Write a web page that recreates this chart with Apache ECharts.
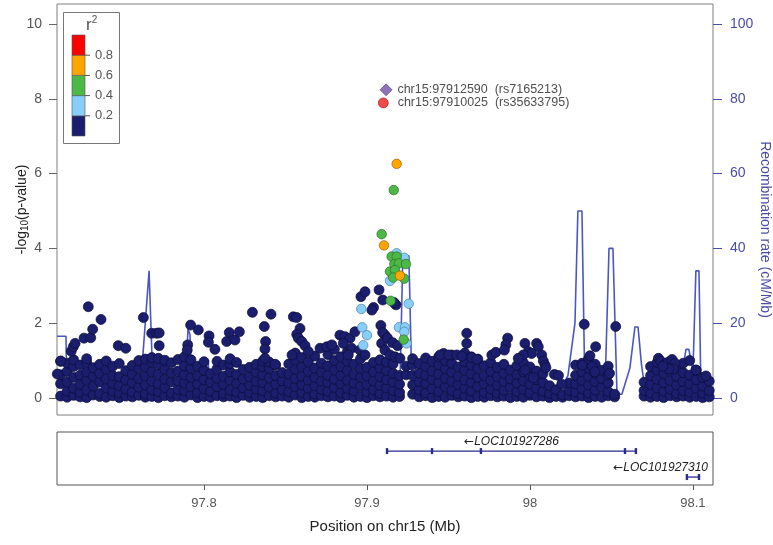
<!DOCTYPE html>
<html><head><meta charset="utf-8">
<script src="https://cdn.jsdelivr.net/npm/echarts@6/dist/echarts.min.js"></script>
<style>html,body{margin:0;padding:0;background:#fff}#c{width:773px;height:545px}</style>
</head><body><div id="c"></div>
<script>
// ---------- data ----------
const xTicks = [97.8, 97.9, 98, 98.1];
const pTicks = [0, 2, 4, 6, 8, 10];
const recTicks = [0, 20, 40, 60, 80, 100];
const r2Labels = ['0.2', '0.4', '0.6', '0.8'];
const r2Colors = ['#1b1d6d', '#87cefa', '#4cb848', '#ffa500', '#ff0000'];

// recombination rate (cM/Mb)
const recPos  = [97.7098,97.7153,97.7159,97.7362,97.7607,97.7626,97.7663,97.7687,97.7730,97.7883,97.7902,97.7914,97.7926,97.7994,97.8012,97.8025,97.8037,97.8282,97.8589,97.8773,97.8930,97.8945,97.8960,97.9202,97.9220,97.9257,97.9276,97.9325,97.9816,98.0184,98.0233,98.0276,98.0294,98.0319,98.0337,98.0460,98.0485,98.0509,98.0534,98.0564,98.0613,98.0644,98.0663,98.0684,98.0712,98.0920,98.0957,98.0975,98.1000,98.1018,98.1037,98.1049,98.1123];
const recRate = [16.5,16.5,2,3,5,12,34,3,3,2,18.5,17,2,3,10.5,10,2,3,2,3,3,9,3,3,38,38,2,1.5,2,2,6,20,50,50,2,2,40,40,1,1,8,19,19,9,0.5,2,13,13,7,34,34,2,1];

// -log10(p) for r2 < 0.2, grouped by position column
const navyCols = [
 [97.712,[0.05,0.38,0.62,0.98]],[97.716,[0.02,0.18,0.42,0.71,0.93]],[97.720,[0.07,0.26,0.55,0.84,1.02]],
 [97.724,[0.03,0.15,0.36,0.61,0.88]],[97.728,[0.01,0.21,0.47,0.69,0.95,1.05]],[97.732,[0.08,0.32,0.58,0.81]],
 [97.736,[0.04,0.12,0.44,0.66,0.9]],[97.740,[0.02,0.27,0.51,0.77,0.99]],[97.744,[0.06,0.19,0.39,0.6,0.85]],
 [97.748,[0.01,0.14,0.33,0.57,0.92]],[97.752,[0.05,0.24,0.48,0.73]],[97.756,[0.03,0.16,0.41,0.63,0.87]],
 [97.760,[0.07,0.29,0.52,0.79,1.0]],[97.764,[0.02,0.11,0.35,0.59,0.83,1.04]],[97.768,[0.04,0.22,0.45,0.7,0.96,1.08]],
 [97.772,[0.01,0.17,0.38,0.64,0.9,1.06]],[97.776,[0.06,0.28,0.5,0.76,1.01]],[97.780,[0.03,0.13,0.43,0.67,0.94]],
 [97.784,[0.05,0.23,0.46,0.72,1.03]],[97.788,[0.02,0.2,0.4,0.62,0.86,1.1]],[97.792,[0.08,0.31,0.55,0.8,1.02]],
 [97.796,[0.01,0.15,0.37,0.6,0.85]],[97.800,[0.04,0.25,0.49,0.74,0.97]],[97.804,[0.02,0.18,0.42,0.65]],
 [97.808,[0.06,0.3,0.53,0.78,0.98]],[97.812,[0.03,0.12,0.36,0.58,0.88]],[97.816,[0.05,0.21,0.47,0.7,0.92,1.05]],
 [97.820,[0.01,0.16,0.39,0.63,0.95]],[97.824,[0.07,0.27,0.51,0.76]],[97.828,[0.02,0.14,0.34,0.57,0.82]],
 [97.832,[0.04,0.24,0.44,0.69,0.9]],[97.836,[0.01,0.19,0.41,0.62,0.84,0.99]],[97.840,[0.06,0.29,0.54,0.79,0.96]],
 [97.844,[0.03,0.13,0.37,0.6,0.88]],[97.848,[0.05,0.22,0.46,0.68]],[97.852,[0.02,0.17,0.4,0.64,0.91]],
 [97.856,[0.08,0.3,0.52,0.77,1.02,1.2]],[97.860,[0.01,0.15,0.35,0.58,0.83,1.08]],[97.864,[0.04,0.26,0.48,0.71,0.97]],
 [97.868,[0.02,0.11,0.33,0.55,0.8,1.12]],[97.872,[0.06,0.23,0.45,0.69,0.93]],[97.876,[0.03,0.18,0.42,0.61,0.86,1.16]],
 [97.880,[0.05,0.28,0.5,0.75,1.0,1.3]],[97.884,[0.01,0.14,0.38,0.6,0.84,1.1]],[97.888,[0.07,0.25,0.47,0.73,0.98,1.24]],
 [97.892,[0.02,0.19,0.4,0.63,0.9]],[97.896,[0.04,0.31,0.56,0.79,1.05]],[97.900,[0.01,0.16,0.36,0.59,0.82]],
 [97.904,[0.06,0.22,0.46,0.7,0.95]],[97.908,[0.03,0.12,0.34,0.57,0.8,1.02]],[97.912,[0.05,0.27,0.49,0.74,0.96]],
 [97.916,[0.02,0.2,0.43,0.66,0.91]],[97.920,[0.04,0.15,0.37,0.6]],[97.924,[0.62,0.85]],
 [97.928,[0.1,0.35,0.6,0.88,1.05]],[97.932,[0.03,0.22,0.44,0.67,0.92]],[97.936,[0.06,0.14,0.39,0.61,0.85,1.07]],
 [97.940,[0.01,0.25,0.5,0.72,0.98]],[97.944,[0.04,0.17,0.41,0.64,0.89,1.1]],[97.948,[0.02,0.3,0.53,0.78,1.0]],
 [97.952,[0.07,0.2,0.45,0.69,0.93,1.15]],[97.956,[0.03,0.12,0.36,0.58,0.83]],[97.960,[0.05,0.26,0.48,0.74,0.97,1.2]],
 [97.964,[0.01,0.19,0.42,0.65,0.88,1.1]],[97.968,[0.04,0.31,0.55,0.8,1.04]],[97.972,[0.02,0.15,0.38,0.6,0.86]],
 [97.976,[0.06,0.24,0.47,0.71,0.95]],[97.980,[0.03,0.13,0.34,0.57,0.82]],[97.984,[0.05,0.21,0.44,0.66,0.9]],
 [97.988,[0.01,0.28,0.51,0.75]],[97.992,[0.04,0.17,0.4,0.63,0.87]],[97.996,[0.02,0.23,0.46,0.7,0.94]],
 [98.000,[0.07,0.14,0.37,0.59,0.83]],[98.004,[0.03,0.26,0.49,0.72]],[98.008,[0.05,0.18,0.41,0.65]],
 [98.012,[0.01,0.12,0.33]],[98.016,[0.04,0.22]],[98.020,[0.02,0.09]],[98.024,[0.06,0.2,0.4]],
 [98.028,[0.03,0.16,0.38,0.61,0.88]],[98.032,[0.05,0.25,0.47,0.7,0.93]],[98.036,[0.01,0.13,0.35,0.58,0.8,1.05]],
 [98.040,[0.04,0.21,0.44,0.66,0.9]],[98.044,[0.02,0.29,0.52,0.74]],[98.048,[0.06,0.17,0.4,0.62,0.85]],
 [98.052,[0.03,0.1]],[98.070,[0.05,0.2,0.42]],[98.074,[0.02,0.14,0.36,0.6,0.84]],
 [98.078,[0.04,0.27,0.5,0.75,0.95]],[98.082,[0.01,0.18,0.41,0.66,0.89]],[98.086,[0.06,0.24,0.47,0.72,0.98]],
 [98.090,[0.03,0.12,0.35,0.58,0.82]],[98.094,[0.05,0.2,0.44,0.68,0.93]],[98.098,[0.02,0.16,0.38,0.61]],
 [98.102,[0.04,0.26,0.49,0.74]],[98.106,[0.01,0.13,0.32,0.55]],[98.110,[0.03,0.2,0.45]]
];
// -log10(p) for r2 < 0.2, points above the dense band
const navyExtra = [
 [97.7100,0.64],[97.7121,0.99],[97.7185,1.25],[97.7198,1.37],[97.7209,1.46],[97.7264,1.60],[97.7305,1.61],
 [97.7317,1.84],[97.7290,2.44],[97.7368,2.10],[97.7474,1.40],[97.7520,1.33],[97.7628,2.15],[97.7679,1.73],
 [97.7709,1.73],[97.7725,1.74],[97.7725,1.40],[97.7900,1.42],[97.7897,1.28],[97.7918,1.95],[97.7965,1.82],
 [97.8031,1.66],[97.8027,1.49],[97.8067,1.30],[97.8139,1.51],[97.8155,1.75],[97.8190,1.55],[97.8217,1.77],
 [97.8297,2.29],[97.8411,2.24],[97.8370,1.91],[97.8378,1.51],[97.8374,1.31],[97.8374,1.06],[97.8436,0.90],
 [97.8548,2.17],[97.8569,2.15],[97.8589,1.86],[97.8569,1.70],[97.8579,1.60],[97.8600,1.51],[97.8620,1.40],
 [97.8640,1.24],[97.8540,1.15],[97.8834,1.68],[97.8865,1.64],[97.8896,1.60],[97.8926,1.77],[97.8855,1.46],
 [97.8906,1.33],[97.8957,1.28],[97.8988,1.15],[97.8885,1.15],[97.8712,1.33],[97.8753,1.37],[97.8784,1.42],
 [97.9110,1.68],[97.9090,1.46],[97.9110,1.28],[97.9141,1.15],[97.9172,1.10],[97.9202,1.06],
 [97.8963,2.71],[97.8988,2.84],[97.9074,2.89],[97.9097,2.62],[97.9040,2.42],[97.9030,2.35],[97.9178,2.49],
 [97.9166,2.55],[97.9085,1.94],[97.9096,1.75],[97.9126,1.60],[97.9157,1.48],[97.9188,1.40],
 [97.9612,1.73],[97.9612,1.46],[97.9470,1.19],[97.9449,1.15],[97.9500,1.15],[97.9551,1.15],[97.9582,1.12],
 [97.9643,1.08],[97.9674,1.03],[97.9766,1.15],[97.9790,1.22],
 [97.9863,1.60],[97.9852,1.42],[97.9843,1.28],[97.9969,1.46],[98.0041,1.46],[98.0051,1.37],[97.9990,1.24],
 [98.0010,1.19],[97.9959,1.15],[97.9928,1.06],[98.0072,1.15],[98.0082,0.99],[98.0092,0.88],[98.0098,0.81],
 [98.0150,0.63],[98.0175,0.60],[98.0195,0.37],[97.9969,0.75],[98.0020,0.54],
 [98.0333,1.97],[98.0526,1.91],[98.0403,1.37],[98.0368,1.13],[98.0321,0.88],[98.0382,0.84],[98.0398,0.70],
 [98.0488,0.66],[98.0788,1.06],[98.0803,0.98],[98.0827,0.90],[98.0846,0.95],[98.0872,1.03],[98.0890,0.93],
 [98.0880,0.78],[98.0852,0.78],[98.0815,0.85],[98.0980,1.00],[98.1018,0.75],[98.1080,0.59]
];
const lightBlue = [[97.9182,3.87],[97.9229,3.75],[97.9141,3.13],[97.9256,2.52],[97.8965,2.38],[97.8971,1.89],
 [97.9000,1.68],[97.8977,1.41],[97.9196,1.89],[97.9233,1.89],[97.9229,1.77],[97.9243,1.46]];
const green = [[97.9164,5.56],[97.9090,4.38],[97.9151,3.78],[97.9182,3.78],[97.9168,3.58],[97.9196,3.60],
 [97.9141,3.38],[97.9172,3.42],[97.9161,3.22],[97.9229,3.19],[97.9239,3.58],[97.9145,2.60],[97.9225,1.56]];
const orange = [[97.9182,6.26],[97.9104,4.08],[97.9202,3.27]];
const redSnp = [[97.9100,7.89]];
const leadSnp = [[97.9117,8.24]];
const leadLabel = 'chr15:97912590  (rs7165213)';
const redLabel = 'chr15:97910025  (rs35633795)';

const geneNames = ['LOC101927286', 'LOC101927310'];
const geneStart = [97.9123, 98.0963];
const geneEnd = [98.0650, 98.1037];
const geneRow = [0, 1];
const geneExons = [[97.9123, 97.9399, 97.9699, 98.0583, 98.0650], [98.0963, 98.1037]];

// ---------- chart ----------
const X_MIN = 97.7098, X_MAX = 98.1123;
const FONT = '"Liberation Sans", Arial, sans-serif';
const navy = [];
navyCols.forEach(c => c[1].forEach(v => navy.push([c[0], v])));
navyExtra.forEach(p => navy.push(p));

const measure = document.createElement('canvas').getContext('2d');

function scat(name, data, color, border, size) {
  return { name, type: 'scatter', xAxisIndex: 0, yAxisIndex: 0, data, symbolSize: size,
    itemStyle: { color, borderColor: border, borderWidth: 0.7, opacity: 1 }, z: 3 };
}

const chart = echarts.init(document.getElementById('c'), null, { renderer: 'canvas' });
const legendGraphics = [
  { type: 'rect', shape: { x: 63.5, y: 12.5, width: 56, height: 131 }, style: { fill: '#fff', stroke: '#777', lineWidth: 1 }, z: 10 }
];
for (let i = 0; i < 5; i++) {
  legendGraphics.push({ type: 'rect', shape: { x: 72, y: 35 + (4 - i) * 20.2, width: 13, height: 20.2 },
    style: { fill: r2Colors[i], stroke: '#555', lineWidth: 0.6 }, z: 11 });
}
for (let i = 0; i < 4; i++) {
  const y = 35 + (4 - i) * 20.2;
  legendGraphics.push({ type: 'line', shape: { x1: 85, y1: y, x2: 90, y2: y }, style: { stroke: '#555', lineWidth: 1 }, z: 11 });
  legendGraphics.push({ type: 'text', x: 95, y: y, style: { text: r2Labels[i], fill: '#555', font: '13px ' + FONT, verticalAlign: 'middle' }, z: 11 });
}
legendGraphics.push({ type: 'text', x: 86, y: 25, style: { text: '{a|r}{b|2}', verticalAlign: 'middle',
  rich: { a: { fontSize: 17, fontFamily: 'Liberation Sans', fill: '#555' }, b: { fontSize: 10, fontFamily: 'Liberation Sans', fill: '#555', verticalAlign: 'top', padding: [0,0,10,0] } } }, z: 11 });

chart.setOption({
  animation: false,
  textStyle: { fontFamily: FONT },
  grid: [
    { left: 57, top: 4, width: 656, height: 411, show: true, borderColor: '#7f7f7f', borderWidth: 1, outerBoundsMode: 'none', containLabel: false },
    { left: 57, top: 432, width: 656, height: 53, show: true, borderColor: '#555', borderWidth: 1, outerBoundsMode: 'none', containLabel: false }
  ],
  xAxis: [
    { type: 'value', gridIndex: 0, min: X_MIN, max: X_MAX, axisLine: { show: false }, axisTick: { show: false },
      axisLabel: { show: false }, splitLine: { show: false } },
    { type: 'value', gridIndex: 1, min: X_MIN, max: X_MAX, axisLine: { show: false },
      axisTick: { show: true, length: 5, customValues: xTicks, lineStyle: { color: '#555' } },
      axisLabel: { customValues: xTicks, margin: 12, color: '#555', fontSize: 13, fontFamily: FONT },
      splitLine: { show: false },
      name: 'Position on chr15 (Mb)', nameLocation: 'middle', nameGap: 34, nameMoveOverlap: false,
      nameTextStyle: { color: '#222', fontSize: 15, fontFamily: FONT } }
  ],
  yAxis: [
    { type: 'value', gridIndex: 0, min: -0.455, max: 10.535, axisLine: { show: false },
      axisTick: { show: true, length: 8, customValues: pTicks, lineStyle: { color: '#666' } },
      axisLabel: { customValues: pTicks, margin: 15, color: '#555', fontSize: 14, fontFamily: FONT },
      splitLine: { show: false },
      name: '{a|-log}{s|10}{a|(p-value)}', nameLocation: 'middle', nameGap: 27, nameRotate: 90, nameMoveOverlap: false,
      nameTextStyle: { rich: { a: { fontSize: 14, color: '#222', fontFamily: FONT }, s: { fontSize: 10, color: '#222', fontFamily: FONT, padding: [6,0,0,0] } } } },
    { type: 'value', gridIndex: 0, position: 'right', min: -4.55, max: 105.35, axisLine: { show: false },
      axisTick: { show: true, length: 9, customValues: recTicks, lineStyle: { color: '#4b4ba8' } },
      axisLabel: { customValues: recTicks, margin: 17, color: '#4b4ba8', fontSize: 14, fontFamily: FONT },
      splitLine: { show: false },
      name: 'Recombination rate (cM/Mb)', nameLocation: 'middle', nameGap: 45, nameRotate: -90, nameMoveOverlap: false,
      nameTextStyle: { color: '#4b4ba8', fontSize: 14, fontFamily: FONT, padding: [0, 0, 0, 40] } },
    { type: 'value', gridIndex: 1, min: 0, max: 1, show: false }
  ],
  graphic: legendGraphics,
  series: [
    { name: 'recomb', type: 'line', xAxisIndex: 0, yAxisIndex: 1, data: recPos.map((p, i) => [p, recRate[i]]),
      showSymbol: false, symbol: 'none', lineStyle: { color: '#4c56c2', width: 1.6 }, z: 2, silent: true },
    scat('r2<0.2', navy, r2Colors[0], '#0d0e3a', 10),
    scat('0.2-0.4', lightBlue, r2Colors[1], '#4f7f9f', 9.5),
    scat('0.4-0.6', green, r2Colors[2], '#2d6e2a', 9.5),
    scat('0.6-0.8', orange, r2Colors[3], '#9a6200', 9.5),
    { name: 'red', type: 'scatter', xAxisIndex: 0, yAxisIndex: 0, data: redSnp, symbolSize: 10,
      itemStyle: { color: '#ee1c1c', borderColor: '#901010', borderWidth: 0.7 }, z: 4,
      label: { show: true, position: 'right', distance: 9, formatter: redLabel, color: '#222', fontSize: 12.5, fontFamily: FONT } },
    { name: 'lead', type: 'scatter', xAxisIndex: 0, yAxisIndex: 0, data: leadSnp, symbol: 'diamond', symbolSize: 12,
      itemStyle: { color: '#7250a8', borderColor: '#3e2a66', borderWidth: 0.7 }, z: 4,
      label: { show: true, position: 'right', distance: 5, formatter: leadLabel, color: '#222', fontSize: 12.5, fontFamily: FONT } },
    { name: 'genes', type: 'custom', xAxisIndex: 1, yAxisIndex: 2, data: geneNames.map((n, i) => [geneStart[i], geneEnd[i], geneRow[i]]),
      clip: false,
      renderItem: function (params, api) {
        const i = params.dataIndex;
        const rowV = 0.64 - geneRow[i] * 0.49;
        const s = api.coord([geneStart[i], rowV]);
        const e = api.coord([geneEnd[i], rowV]);
        const right = api.coord([X_MAX, rowV])[0];
        const children = [{ type: 'line', shape: { x1: s[0], y1: s[1], x2: e[0], y2: e[1] }, style: { stroke: '#2a2a90', lineWidth: 1.3 } }];
        geneExons[i].forEach(x => {
          const c = api.coord([x, rowV]);
          children.push({ type: 'rect', shape: { x: c[0] - 1.2, y: c[1] - 3, width: 2.4, height: 6 }, style: { fill: '#2a2a90' } });
        });
        const arrowFont = '12px "DejaVu Sans", sans-serif';
        const font = 'italic 12px "Liberation Sans", Arial, sans-serif';
        measure.font = arrowFont;
        const wa = measure.measureText('\u2190').width;
        measure.font = font;
        const w = wa + measure.measureText(geneNames[i]).width;
        let cx = (s[0] + e[0]) / 2;
        if (cx + w / 2 > right - 5) cx = right - 5 - w / 2;
        children.push({ type: 'text', x: cx, y: s[1] - 9, style: {
          text: '{ar|\u2190}{nm|' + geneNames[i] + '}', align: 'center', verticalAlign: 'middle',
          rich: { ar: { font: arrowFont, fill: '#222' }, nm: { font: font, fill: '#222' } } } });
        return { type: 'group', children };
      } }
  ]
});
</script>
</body></html>
